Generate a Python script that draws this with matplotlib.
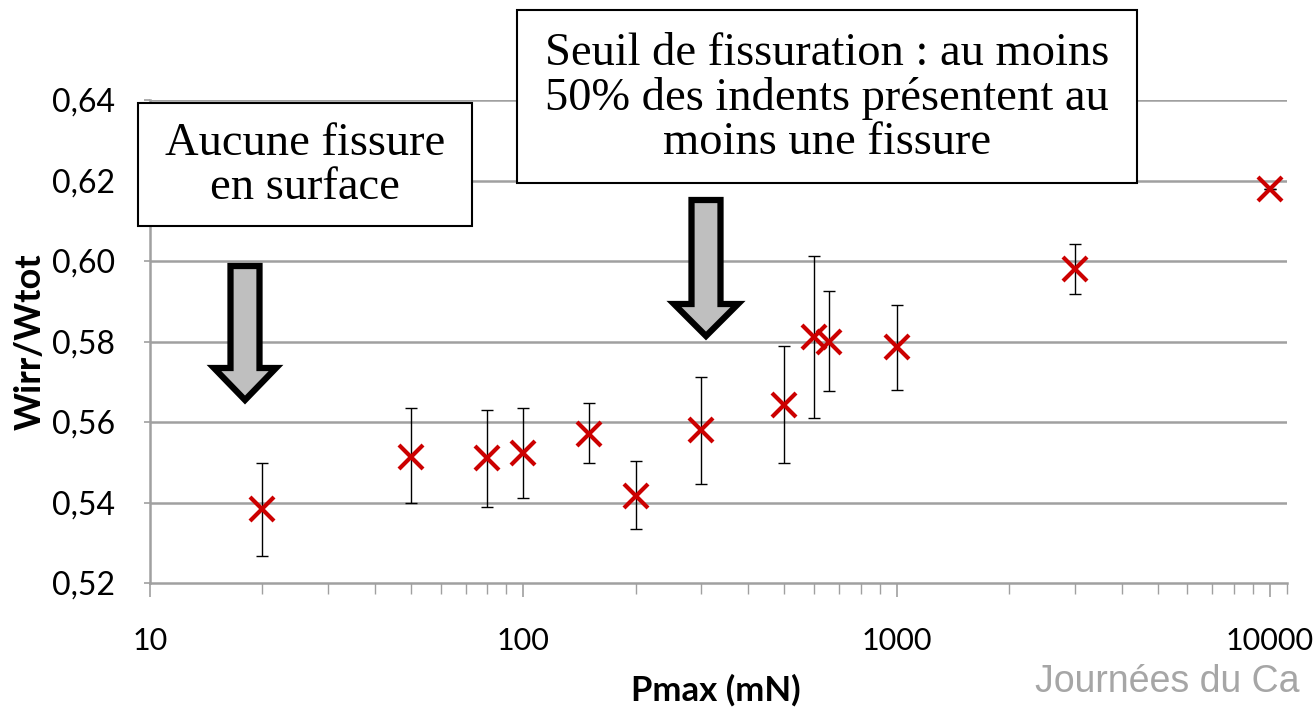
import matplotlib.pyplot as plt
from matplotlib.patches import Rectangle, Polygon
from matplotlib.ticker import FixedLocator, NullFormatter

# data
pmax = [20, 50, 80, 100, 150, 200, 300, 500, 600, 660, 1000, 3000, 10000]
ratio = [0.5385, 0.5514, 0.5510, 0.5524, 0.5570, 0.5417, 0.5581, 0.5643,
         0.5810, 0.5800, 0.5786, 0.5979, 0.6180]
err_low = [0.0119, 0.0114, 0.0122, 0.0112, 0.0073, 0.0084, 0.0134, 0.0146,
           0.0200, 0.0122, 0.0106, 0.0061, 0.0]
err_high = [0.0114, 0.0120, 0.0120, 0.0110, 0.0077, 0.0085, 0.0132, 0.0145,
            0.0202, 0.0125, 0.0104, 0.0063, 0.0]
yticks = [0.52, 0.54, 0.56, 0.58, 0.60, 0.62, 0.64]
ytick_labels = ["0,52", "0,54", "0,56", "0,58", "0,60", "0,62", "0,64"]
xticks = [10, 100, 1000, 10000]
xtick_labels = ["10", "100", "1000", "10000"]
x_max = 11100

W, H = 1315, 714
fig = plt.figure(figsize=(W / 100, H / 100), dpi=100)


def fx(px):
    return px / W


def fy(py):
    return 1 - py / H


ax = fig.add_axes([fx(150), fy(583), fx(1287) - fx(150), fy(100) - fy(583)])
ax.set_xscale("log")
ax.set_xlim(10, x_max)
ax.set_ylim(0.52, 0.64)

grid_col = "#a0a0a0"
for y in yticks[1:]:
    ax.axhline(y, color=grid_col, lw=1.8, zorder=0)

ax.errorbar(pmax, ratio, yerr=[err_low, err_high], fmt="none", ecolor="black",
            elinewidth=1.0, capsize=4, capthick=1.0, zorder=2)
ax.plot(pmax, ratio, ls="none", marker="x", ms=17, mew=3, color="#cc0000", zorder=3)

for s in ["top", "right"]:
    ax.spines[s].set_visible(False)
for s in ["left", "bottom"]:
    ax.spines[s].set_color(grid_col)
    ax.spines[s].set_linewidth(1.8)

ax.yaxis.set_major_locator(FixedLocator(yticks))
ax.set_yticklabels(ytick_labels, fontdict=dict(family="Lato", size=23))
ax.xaxis.set_major_locator(FixedLocator(xticks))
ax.set_xticklabels(xtick_labels, fontdict=dict(family="Lato", size=22))
minor = [m * d for d in (10, 100, 1000) for m in range(2, 10)] + [x_max]
ax.xaxis.set_minor_locator(FixedLocator(minor))
ax.xaxis.set_minor_formatter(NullFormatter())
ax.tick_params(axis="y", which="major", color=grid_col, width=1.2, length=4, pad=21)
ax.tick_params(axis="x", which="major", color=grid_col, width=1.2, length=10, pad=22)
ax.tick_params(axis="x", which="minor", color=grid_col, width=1.0, length=8)

fig.text(fx(716), fy(690), "Pmax (mN)", ha="center", va="center",
         family="Lato", weight="bold", size=25)
fig.text(fx(30), fy(342), "Wirr/Wtot", ha="center", va="center", rotation=90,
         family="Lato", weight="bold", size=26)
fig.text(fx(1035), fy(682), "Journées du Ca", ha="left", va="center",
         family="Liberation Sans", size=27, color="#a6a6a6")

# annotation boxes
serif = dict(family="Liberation Serif", size=33.5)
fig.patches.append(Rectangle((fx(138), fy(226)), fx(472) - fx(138), fy(103) - fy(226),
                             transform=fig.transFigure, facecolor="white",
                             edgecolor="black", lw=1.5, zorder=5))
fig.text(fx(305), fy(166), "Aucune fissure\nen surface", ha="center", va="center",
         linespacing=1.05, zorder=6, **serif)
fig.patches.append(Rectangle((fx(517), fy(183)), fx(1137) - fx(517), fy(10) - fy(183),
                             transform=fig.transFigure, facecolor="white",
                             edgecolor="black", lw=1.5, zorder=5))
fig.text(fx(827), fy(98), "Seuil de fissuration : au moins\n50% des indents présentent au\nmoins une fissure",
         ha="center", va="center", linespacing=1.05, zorder=6, **serif)


def down_arrow(cx, top, tip, shaft_w, head_w, head_h):
    pts = [(cx - shaft_w / 2, top), (cx + shaft_w / 2, top),
           (cx + shaft_w / 2, tip - head_h), (cx + head_w / 2, tip - head_h),
           (cx, tip), (cx - head_w / 2, tip - head_h),
           (cx - shaft_w / 2, tip - head_h)]
    fig.patches.append(Polygon([(fx(x), fy(y)) for x, y in pts], closed=True,
                               transform=fig.transFigure, facecolor="#bfbfbf",
                               edgecolor="black", lw=4.5, joinstyle="miter", zorder=5))


down_arrow(245, 266, 400, 29, 62, 32)
down_arrow(706, 200, 336, 29, 64, 32)

fig.savefig("out.png", dpi=100)
